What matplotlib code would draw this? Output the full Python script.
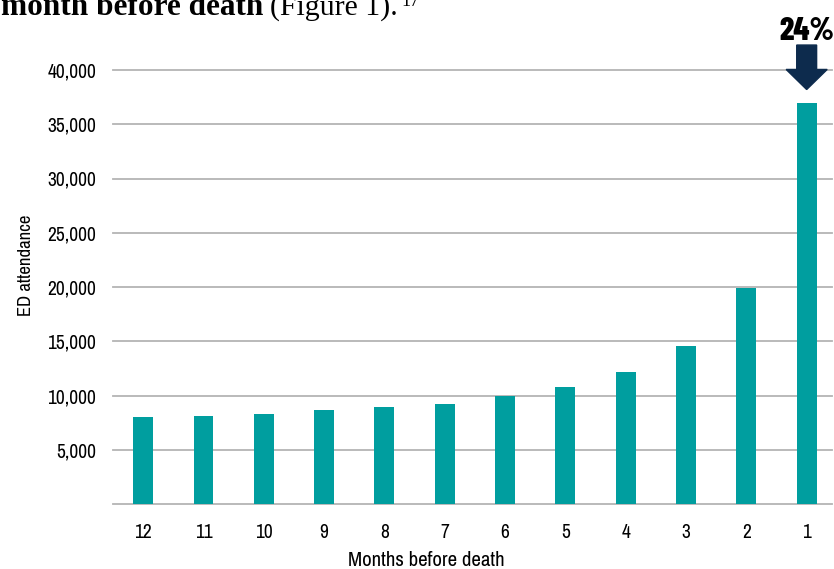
import matplotlib
matplotlib.use('Agg')
import matplotlib.pyplot as plt
from matplotlib.patches import FancyArrow

months = ['12', '11', '10', '9', '8', '7', '6', '5', '4', '3', '2', '1']
attendance = [8000, 8100, 8270, 8630, 8900, 9200, 9980, 10820, 12200, 14600, 19950, 36950]
yticks = [5000, 10000, 15000, 20000, 25000, 30000, 35000, 40000]
callout = '24%'

teal = '#009e9f'
navy = '#0d2b4d'
grid = '#b4b4b4'
narrow = ['Archivo Narrow', 'DejaVu Sans']
bold_narrow = ['Barlow Condensed', 'DejaVu Sans']

fig = plt.figure(figsize=(8.34, 5.69), dpi=100)
ax = fig.add_axes([113/834, 65/569, 719/834, 434/569])

x = list(range(len(months)))
ax.bar(x, attendance, width=0.33, color=teal, zorder=3)

ax.set_ylim(0, 40000)
ax.set_xlim(-0.5, 11.42)
ax.set_yticks(yticks)
ax.set_yticklabels([f'{v:,}' for v in yticks], family=narrow, fontsize=14)
ax.set_xticks(x)
ax.set_xticklabels(months, family=narrow, fontsize=14)
ax.tick_params(length=0)
ax.tick_params(axis='y', pad=12)
ax.tick_params(axis='x', pad=14)
for v in yticks:
    ax.axhline(v, color=grid, lw=1.3, zorder=1, clip_on=False)
for s in ['top', 'right', 'left']:
    ax.spines[s].set_visible(False)
ax.spines['bottom'].set_color(grid)
ax.spines['bottom'].set_linewidth(1.3)

fig.text(26/834, 1-265/569, 'ED attendance', family=narrow, fontsize=13.5,
         rotation=90, ha='center', va='center')
fig.text(426/834, 1-566/569, 'Months before death', family=narrow, fontsize=15,
         ha='center', va='baseline')

# arrow + callout over last bar
ax.add_patch(FancyArrow(11, 42300, 0, -4100, width=0.33, head_width=0.68,
                        head_length=1850, length_includes_head=True,
                        color=navy, clip_on=False, zorder=4))
ax.text(11, 42800, callout, family=bold_narrow, fontweight=800, fontsize=23,
        ha='center', va='baseline')

# clipped sentence from the page above, pieces placed one after another
y0 = 1 - 15/569
fig.canvas.draw()
r = fig.canvas.get_renderer()
t1 = fig.text(1/834, y0, 'month before death', family='Liberation Serif',
              fontweight='bold', fontsize=22.5, va='baseline')
x1 = t1.get_window_extent(r).x1
t2 = fig.text((x1 + 7)/834, y0, '(Figure 1).', family='Liberation Serif',
              fontsize=21.5, va='baseline')
x2 = t2.get_window_extent(r).x1
fig.text((x2 + 3)/834, 1 - 6/569, '17', family='Liberation Serif',
         fontsize=13, va='baseline')

fig.savefig('out.png', dpi=100)
